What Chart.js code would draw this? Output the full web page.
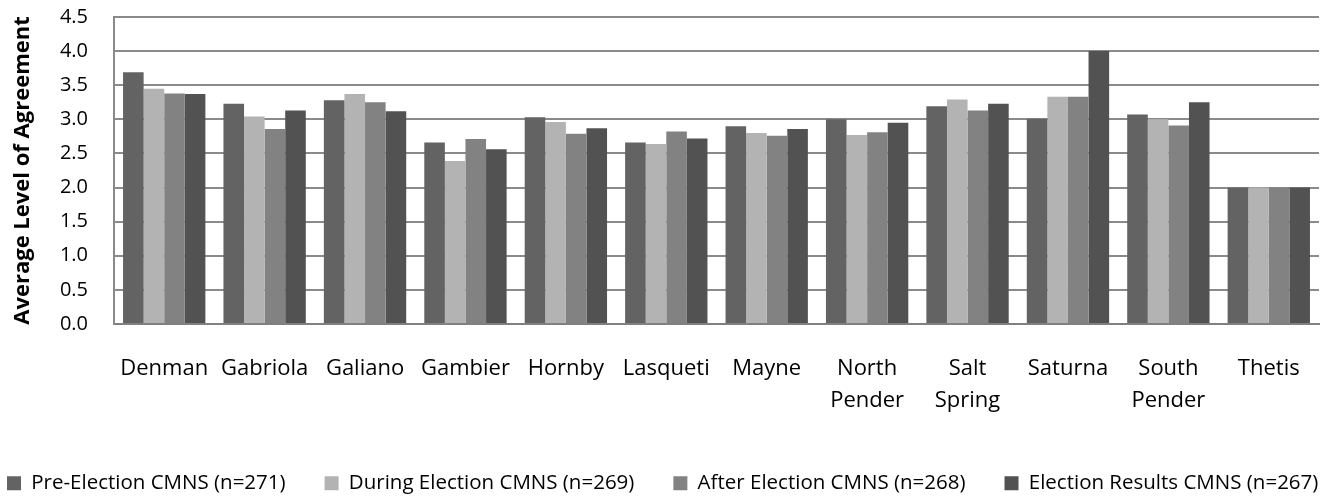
<!DOCTYPE html>
<html>
<head>
<meta charset="utf-8">
<script src="https://cdn.jsdelivr.net/npm/chart.js@4"></script>
<style>
  html, body { margin: 0; padding: 0; background: #fff; }
  #wrap { width: 1330px; height: 497px; }
</style>
</head>
<body>
<div id="wrap"><canvas id="chart" width="1330" height="497"></canvas></div>
<script>
const islands = ["Denman", "Gabriola", "Galiano", "Gambier", "Hornby", "Lasqueti", "Mayne",
  ["North", "Pender"], ["Salt", "Spring"], "Saturna", ["South", "Pender"], "Thetis"];
const preElection    = [3.69, 3.23, 3.28, 2.66, 3.03, 2.66, 2.90, 3.00, 3.19, 3.01, 3.07, 2.00];
const duringElection = [3.45, 3.04, 3.37, 2.39, 2.96, 2.64, 2.80, 2.77, 3.29, 3.33, 3.00, 2.00];
const afterElection  = [3.38, 2.86, 3.25, 2.71, 2.79, 2.82, 2.76, 2.81, 3.13, 3.33, 2.91, 2.00];
const resultsElection = [3.37, 3.13, 3.12, 2.56, 2.87, 2.72, 2.86, 2.95, 3.23, 4.00, 3.25, 2.00];
const seriesNames = ["Pre-Election CMNS (n=271)", "During Election CMNS (n=269)",
  "After Election CMNS (n=268)", "Election Results CMNS (n=267)"];
const seriesColors = ["#636363", "#b3b3b3", "#828282", "#525252"];

const font = "'Open Sans', 'DejaVu Sans', sans-serif";
const seriesData = [preElection, duringElection, afterElection, resultsElection];
const LEGEND_GAP = 39;

// one wide legend row starting at the left edge, without its padding eating vertical room
const legendFit = {
  id: "legendFit",
  beforeLayout(chart) {
    const lg = chart.legend;
    if (!lg || lg._fitPatched) return;
    const orig = lg.fit;
    lg.fit = function () {
      const w = this.maxWidth;
      this.maxWidth = 5000;
      orig.call(this);
      this.maxWidth = w;
      this.width = w;
      this.height = 63;
    };
    lg._fitPatched = true;
  },
  afterLayout(chart) {
    const lg = chart.legend;
    if (!lg) return;
    lg.left = 7 - LEGEND_GAP;
    lg.right = 5000;
  }
};

new Chart(document.getElementById("chart"), {
  type: "bar",
  data: {
    labels: islands,
    datasets: seriesData.map((d, i) => ({
      label: seriesNames[i],
      data: d,
      backgroundColor: seriesColors[i],
      borderWidth: 0,
      categoryPercentage: 0.82,
      barPercentage: 1.0
    }))
  },
  options: {
    responsive: false,
    animation: false,
    layout: { padding: 0 },
    plugins: {
      tooltip: { enabled: false },
      legend: {
        position: "bottom",
        align: "start",
        labels: {
          color: "#000",
          font: { family: font, size: 20.5 },
          boxWidth: 14,
          boxHeight: 14,
          padding: LEGEND_GAP
        }
      }
    },
    scales: {
      x: {
        grid: { display: false },
        border: { display: true, color: "#808080", width: 2 },
        ticks: { color: "#000", font: { family: font, size: 22, lineHeight: 1.45 }, maxRotation: 0, autoSkip: false, padding: 21 },
        afterFit: s => { s.height = 110; s.paddingLeft = 0; s.paddingRight = 0; }
      },
      y: {
        min: 0, max: 4.5,
        ticks: { stepSize: 0.5, autoSkip: false, color: "#000", font: { family: font, size: 20 }, padding: 26,
          callback: v => Number(v).toFixed(1) },
        grid: { color: "#8a8a8a", lineWidth: 2, drawTicks: false },
        border: { display: true, color: "#8a8a8a", width: 2 },
        title: { display: true, text: "Average Level of Agreement", color: "#000",
          font: { family: font, size: 22, weight: "bold" }, padding: { top: 10, bottom: 0 } },
        afterFit: s => { s.width = 114; s.paddingTop = 17; s.paddingBottom = 0; }
      },
      yRight: {
        position: "right",
        grid: { display: false },
        border: { display: false },
        ticks: { display: false },
        afterFit: s => { s.width = 11; s.paddingTop = 0; s.paddingBottom = 0; }
      }
    }
  },
  plugins: [legendFit]
});
</script>
</body>
</html>
